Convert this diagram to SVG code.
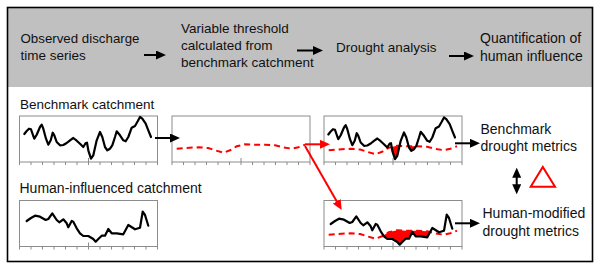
<svg xmlns="http://www.w3.org/2000/svg" xmlns:xlink="http://www.w3.org/1999/xlink" width="600" height="268" viewBox="0 0 600 268">
<style>
text{font-family:"Liberation Sans",Arial,sans-serif;font-size:13.5px;fill:#111}
.big{font-size:14px}
.box{fill:#fff;stroke:#8c8c8c;stroke-width:1}
.tick{fill:none;stroke:#8c8c8c;stroke-width:1}
.q{fill:none;stroke:#000;stroke-width:2.2;stroke-linejoin:round;stroke-linecap:round}
.thr{fill:none;stroke:#ff0000;stroke-width:2;stroke-dasharray:6 4}
.ar{fill:none;stroke:#000;stroke-width:2}
.ar-red{fill:none;stroke:#ff0000;stroke-width:2}
.dfill{fill:#ff0000;stroke:none}
</style>
<defs>
<marker id="ah" viewBox="0 0 10 9" refX="6" refY="4.5" markerWidth="5" markerHeight="4.5" orient="auto-start-reverse"><path d="M0,0 L10,4.5 L0,9 z" fill="#000"/></marker>
<marker id="ahr" viewBox="0 0 10 9" refX="6" refY="4.5" markerWidth="5" markerHeight="4.5" orient="auto"><path d="M0,0 L10,4.5 L0,9 z" fill="#ff0000"/></marker>
<path id="ticks" d="M0,0v3 M11.5,0v3 M23,0v3 M34.5,0v3 M46,0v3 M57.5,0v3 M69,-4v7 M80.5,0v3 M92,0v3 M103.5,0v3 M115,0v3 M126.5,0v3 M138,0v3"/>
<polyline id="q1" points="24.3,134 26.7,131 29,128.7 31,129.3 33.3,136 34.3,138.7 36.7,134.7 40,127 41.7,124.7 43.3,128.7 46,138.7 48.3,144.7 50.7,140.3 52.7,132.7 54.3,135.3 56.7,142 60,145.3 63.3,145 66.7,143 70,140.3 73.3,138 76.7,140.7 80,143.7 83.3,147 85.7,143 87,142.7 88.3,150.3 91,158.7 93.3,155.3 96.7,140.3 100,132 102.3,137 105,147 107.3,150.3 110,148.7 112.3,145.3 115,137 116.7,131.3 120,135.3 123.3,140.3 125.7,141.3 128.3,137 131.7,127.7 135,126 137.7,121.3 140,117 142.3,118.7 145.7,123.7 148.3,130.3 151,137"/>
<polyline id="thr" points="176.7,148.7 185,148 198.3,147.3 208.3,148 215,150.3 223.3,152.7 230,150.3 236.7,146.3 245,144.3 255,144.7 265,144.7 275,145.3 283.3,147.3 291.7,148.7 298.3,147.3 305,144.7"/>
<polyline id="q2" points="26.7,221 31,218 35,215.7 40,216.7 45.7,220 48.3,219 52.3,213.3 56.7,220 59.3,222.3 63.3,219.3 66.7,223.3 68.3,227.3 71.7,221 73.3,221.7 76.7,228.3 80,233.3 83.3,236 88.3,236 93.3,239 95.7,241.7 98.3,239 101.7,235.7 105,235.7 108.3,229 111.7,233.3 116.7,233.3 123.3,234.3 128.3,225 135,229.3 140,227.7 142.7,211.7 145,215 148.3,225.7"/>
<clipPath id="clip3"><polygon transform="translate(152,1.5)" points="176.7,148.7 185,148 198.3,147.3 208.3,148 215,150.3 223.3,152.7 230,150.3 236.7,146.3 245,144.3 255,144.7 265,144.7 275,145.3 283.3,147.3 291.7,148.7 298.3,147.3 305,144.7 305,175 176.7,175"/></clipPath>
<clipPath id="clip4"><polygon transform="translate(152,86)" points="176.7,148.7 185,148 198.3,147.3 208.3,148 215,150.3 223.3,152.7 230,150.3 236.7,146.3 245,144.3 255,144.7 265,144.7 275,145.3 283.3,147.3 291.7,148.7 298.3,147.3 305,144.7 305,175 176.7,175"/></clipPath>
</defs>

<rect x="7.5" y="7.5" width="585" height="254" fill="#fff"/>
<rect x="7.5" y="7.5" width="585" height="79.5" fill="#c0c0c0"/>
<rect x="7.5" y="7.5" width="585" height="254" fill="none" stroke="#000" stroke-width="1.6"/>

<g id="step-observed"><text x="20.5" y="42.7" style="font-size:13.3px">Observed discharge</text><text x="20.5" y="60">time series</text></g>
<g id="step-threshold"><text x="181" y="33.3">Variable threshold</text><text x="181" y="50">calculated from</text><text x="181" y="66.8">benchmark catchment</text></g>
<g id="step-drought"><text x="336" y="51.5">Drought analysis</text></g>
<g id="step-quant"><text class="big" x="480" y="42.7">Quantification of</text><text class="big" x="480" y="60.5">human influence</text></g>

<g id="label-benchmark"><text x="20" y="108.5">Benchmark catchment</text></g>
<g id="label-human"><text class="big" x="19.5" y="193">Human-influenced catchment</text></g>

<g id="chart-benchmark-q">
<rect class="box" x="19.5" y="116" width="138" height="46"/>
<use xlink:href="#ticks" class="tick" x="19.5" y="162"/>
<use xlink:href="#q1" class="q"/>
</g>

<g id="chart-threshold">
<rect class="box" x="172" y="116" width="138" height="46"/>
<use xlink:href="#ticks" class="tick" x="172" y="162"/>
<use xlink:href="#thr" class="thr"/>
</g>

<g id="chart-benchmark-drought">
<rect class="box" x="324" y="116" width="138" height="46"/>
<use xlink:href="#ticks" class="tick" x="324" y="162"/>
<g clip-path="url(#clip3)"><polygon class="dfill" transform="translate(304,0.5)" points="24.3,134 26.7,131 29,128.7 31,129.3 33.3,136 34.3,138.7 36.7,134.7 40,127 41.7,124.7 43.3,128.7 46,138.7 48.3,144.7 50.7,140.3 52.7,132.7 54.3,135.3 56.7,142 60,145.3 63.3,145 66.7,143 70,140.3 73.3,138 76.7,140.7 80,143.7 83.3,147 85.7,143 87,142.7 88.3,150.3 91,158.7 93.3,155.3 96.7,140.3 100,132 102.3,137 105,147 107.3,150.3 110,148.7 112.3,145.3 115,137 116.7,131.3 120,135.3 123.3,140.3 125.7,141.3 128.3,137 131.7,127.7 135,126 137.7,121.3 140,117 142.3,118.7 145.7,123.7 148.3,130.3 151,137 151,100 24.3,100"/></g>
<use xlink:href="#thr" class="thr" transform="translate(152,1.5)"/>
<use xlink:href="#q1" class="q" transform="translate(304,0.5)"/>
</g>

<g id="chart-human-q">
<rect class="box" x="19.5" y="200.5" width="138" height="46"/>
<use xlink:href="#ticks" class="tick" x="19.5" y="246.5"/>
<use xlink:href="#q2" class="q"/>
</g>

<g id="chart-human-drought">
<rect class="box" x="324" y="200.5" width="138" height="46"/>
<use xlink:href="#ticks" class="tick" x="324" y="246.5"/>
<g clip-path="url(#clip4)"><polygon class="dfill" transform="translate(304,3)" points="26.7,221 31,218 35,215.7 40,216.7 45.7,220 48.3,219 52.3,213.3 56.7,220 59.3,222.3 63.3,219.3 66.7,223.3 68.3,227.3 71.7,221 73.3,221.7 76.7,228.3 80,233.3 83.3,236 88.3,236 93.3,239 95.7,241.7 98.3,239 101.7,235.7 105,235.7 108.3,229 111.7,233.3 116.7,233.3 123.3,234.3 128.3,225 135,229.3 140,227.7 142.7,211.7 145,215 148.3,225.7 148.3,190 26.7,190"/></g>
<use xlink:href="#thr" class="thr" transform="translate(152,86)"/>
<use xlink:href="#q2" class="q" transform="translate(304,3)"/>
</g>

<g id="metric-benchmark"><text class="big" x="480.5" y="133.5">Benchmark</text><text class="big" x="480.5" y="151.3">drought metrics</text></g>
<g id="metric-human"><text class="big" x="482.5" y="218.3">Human-modified</text><text class="big" x="482.5" y="236.3">drought metrics</text></g>
<g id="delta"><polygon points="530.7,186.7 555,186.7 542.8,167" fill="none" stroke="#ff0000" stroke-width="2"/></g>

<g id="connectors">
<line class="ar" x1="144" y1="55" x2="162" y2="55" marker-end="url(#ah)"/>
<line class="ar" x1="297" y1="50.5" x2="319" y2="50.5" marker-end="url(#ah)"/>
<line class="ar" x1="449" y1="56" x2="470" y2="56" marker-end="url(#ah)"/>
<line class="ar" x1="155" y1="138" x2="176" y2="138" marker-end="url(#ah)"/>
<line class="ar" x1="455" y1="143.3" x2="476" y2="143.3" marker-end="url(#ah)"/>
<line class="ar" x1="455" y1="223.3" x2="476" y2="223.3" marker-end="url(#ah)"/>
<line class="ar" x1="516.7" y1="171.7" x2="516.7" y2="190.3" marker-start="url(#ah)" marker-end="url(#ah)"/>
<line class="ar-red" x1="305" y1="144.3" x2="326" y2="144.3" marker-end="url(#ahr)"/>
<line class="ar-red" x1="305" y1="146" x2="339.7" y2="206.5" marker-end="url(#ahr)"/>
</g>
</svg>
